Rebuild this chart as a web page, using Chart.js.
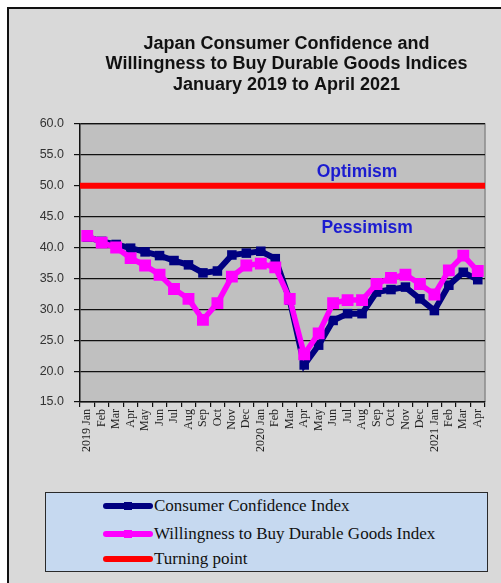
<!DOCTYPE html>
<html>
<head>
<meta charset="utf-8">
<script src="https://cdn.jsdelivr.net/npm/chart.js@4"></script>
<style>
  html, body { margin: 0; padding: 0; background: #fff; }
  #wrap { position: relative; width: 501px; height: 583px; }
  #legend {
    position: absolute; left: 45px; top: 492px; width: 441px; height: 78px;
    background: #c6d9f0; border: 1.5px solid #2a2a2a;
    font-family: "Liberation Serif", "DejaVu Serif", serif; font-size: 17px; color: #111;
  }
  .row { position: absolute; left: 57px; height: 20px; display: flex; align-items: center; }
  .sw { position: relative; width: 50px; height: 20px; margin-right: 1px; }
  .sw .ln { position: absolute; left: 0; right: 0; top: 7px; height: 6px; border-radius: 3px; }
  .sw .mk { position: absolute; left: 21px; top: 6px; width: 8px; height: 8px; }
</style>
</head>
<body>
<div id="wrap">
  <canvas id="c" width="501" height="583"></canvas>
  <div id="legend"></div>
</div>
<script>
// tick labels, one per month
const months = ["2019 Jan", "Feb", "Mar", "Apr", "May", "Jun", "Jul", "Aug", "Sep", "Oct", "Nov", "Dec",
  "2020 Jan", "Feb", "Mar", "Apr", "May", "Jun", "Jul", "Aug", "Sep", "Oct", "Nov", "Dec",
  "2021 Jan", "Feb", "Mar", "Apr"];

const consumerConfidence = [41.7, 41.0, 40.5, 39.9, 39.3, 38.7, 37.9, 37.2, 35.9, 36.2, 38.8, 39.1,
  39.4, 38.2, 31.5, 21.0, 24.2, 28.2, 29.3, 29.3, 32.8, 33.2, 33.6, 31.7,
  29.8, 33.9, 36.0, 34.8];

const willingnessDurable = [41.9, 40.8, 40.0, 38.3, 37.1, 35.6, 33.3, 31.7, 28.3, 31.0, 35.3, 37.1,
  37.4, 36.8, 31.7, 22.7, 26.1, 31.0, 31.5, 31.5, 34.1, 35.1, 35.6, 34.1,
  32.4, 36.3, 38.7, 36.2];

const turningEnds = ["start", "end"];
const turningPoint = [50, 50];

const titleLines = ["Japan Consumer Confidence and", "Willingness to Buy Durable Goods Indices", "January 2019 to April 2021"];
const zoneLabels = [
  { text: "Optimism", value: 52.2, frac: 0.684 },
  { text: "Pessimism", value: 43.1, frac: 0.709 }
];

const backdrop = {
  id: "backdrop",
  beforeDraw(chart) {
    const ctx = chart.ctx, a = chart.chartArea;
    ctx.save();
    ctx.fillStyle = "#ffffff";
    ctx.fillRect(0, 0, chart.width, chart.height);
    ctx.fillStyle = "#d9d9d9";
    ctx.fillRect(8, 8, chart.width - 8, chart.height - 8);
    ctx.fillStyle = "#111";
    ctx.fillRect(7, 7, chart.width - 7, 2);
    ctx.fillRect(7, 7, 2, chart.height - 7);
    ctx.fillStyle = "#c0c0c0";
    ctx.fillRect(a.left, a.top, a.right - a.left, a.bottom - a.top);
    ctx.strokeStyle = "#8a8a8a";
    ctx.lineWidth = 1.5;
    ctx.beginPath();
    ctx.moveTo(a.left, a.top);
    ctx.lineTo(a.right, a.top);
    ctx.lineTo(a.right, a.bottom);
    ctx.stroke();
    // title
    ctx.fillStyle = "#111";
    ctx.font = "bold 18px 'Liberation Sans', Arial, sans-serif";
    ctx.textAlign = "center";
    ctx.textBaseline = "middle";
    const cx = (a.left + a.right) / 2 + 4;
    titleLines.forEach((t, i) => ctx.fillText(t, cx, 44 + i * 20.5));
    ctx.restore();
  },
  afterDatasetsDraw(chart) {
    const ctx = chart.ctx, a = chart.chartArea, y = chart.scales.y;
    ctx.save();
    ctx.fillStyle = "#1c1cd0";
    ctx.font = "bold 17.5px 'Liberation Sans', Arial, sans-serif";
    ctx.textAlign = "center";
    ctx.textBaseline = "middle";
    zoneLabels.forEach(z => ctx.fillText(z.text, a.left + (a.right - a.left) * z.frac, y.getPixelForValue(z.value)));
    ctx.restore();
  }
};

const chart = new Chart(document.getElementById("c"), {
  type: "line",
  data: {
    labels: months,
    datasets: [
      {
        label: "Consumer Confidence Index",
        data: consumerConfidence,
        borderColor: "#000080",
        backgroundColor: "#000080",
        borderWidth: 6,
        pointStyle: "rect",
        pointRadius: 2.5,
        tension: 0,
        order: 1
      },
      {
        label: "Willingness to Buy Durable Goods Index",
        data: willingnessDurable,
        borderColor: "#ff00ff",
        backgroundColor: "#ff00ff",
        borderWidth: 5.5,
        pointStyle: "rect",
        pointRadius: 4.5,
        tension: 0,
        order: 0
      },
      {
        label: "Turning point",
        data: turningPoint,
        xAxisID: "x2",
        borderColor: "#ff0000",
        backgroundColor: "#ff0000",
        borderWidth: 6,
        pointRadius: 0,
        order: 2
      }
    ]
  },
  options: {
    responsive: false,
    animation: false,
    events: [],
    layout: { padding: { left: 10, right: 16, top: 124, bottom: 121 } },
    plugins: { legend: { display: false }, title: { display: false }, tooltip: { enabled: false } },
    scales: {
      x: {
        offset: true,
        afterFit(s) { s.height = 60; },
        grid: { drawOnChartArea: false, drawTicks: true, tickLength: 5, offset: true, color: "#111", lineWidth: 1.2 },
        border: { color: "#111", width: 1.5 },
        ticks: {
          autoSkip: false, minRotation: 90, maxRotation: 90, padding: 2,
          color: "#222", font: { family: "'Liberation Serif', serif", size: 12 }
        }
      },
      x2: {
        type: "category",
        labels: turningEnds,
        offset: false,
        display: false
      },
      y: {
        min: 15, max: 60,
        afterFit(s) { s.width = 70; },
        grid: { color: "#111", lineWidth: 1.2, tickLength: 6 },
        border: { color: "#111", width: 1.5 },
        ticks: {
          stepSize: 5, padding: 10,
          color: "#333", font: { family: "'Liberation Sans', Arial, sans-serif", size: 12.5 },
          callback: v => v.toFixed(1)
        }
      }
    }
  },
  plugins: [backdrop]
});

// legend rows built from the datasets
const rowTops = [3, 31, 56];
const legend = document.getElementById("legend");
chart.data.datasets.forEach((ds, i) => {
  const row = document.createElement("div");
  row.className = "row";
  row.style.top = rowTops[i] + "px";
  const sw = document.createElement("div");
  sw.className = "sw";
  sw.innerHTML = '<div class="ln" style="background:' + ds.borderColor + '"></div>' +
    (ds.pointRadius > 0 ? '<div class="mk" style="background:' + ds.backgroundColor + '"></div>' : "");
  const tx = document.createElement("span");
  tx.textContent = ds.label;
  row.appendChild(sw);
  row.appendChild(tx);
  legend.appendChild(row);
});
</script>
</body>
</html>
